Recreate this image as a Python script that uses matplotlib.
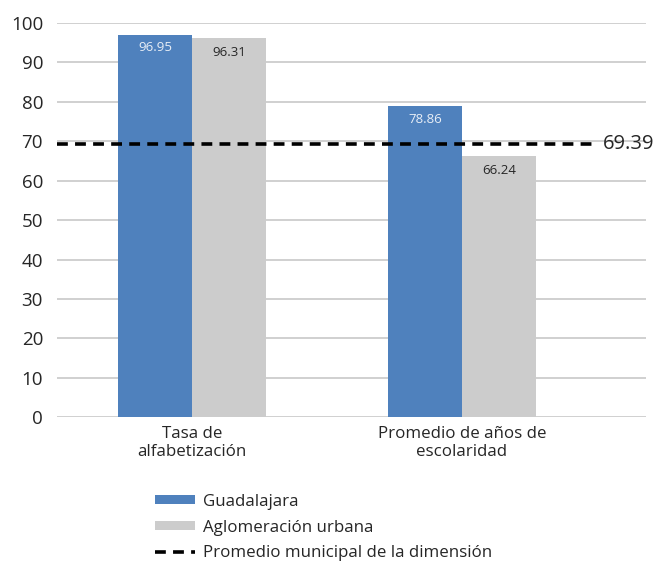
import matplotlib
matplotlib.use("Agg")
import matplotlib.pyplot as plt
import numpy as np

categories = ["Tasa de\nalfabetización", "Promedio de años de\nescolaridad"]
guadalajara = [96.95, 78.86]
aglomeracion = [96.31, 66.24]
promedio_municipal = 69.39
series_names = ["Guadalajara", "Aglomeración urbana", "Promedio municipal de la dimensión"]

plt.rcParams["font.family"] = ["Open Sans", "DejaVu Sans"]

fig = plt.figure(figsize=(6.7, 5.63), dpi=100)
ax = fig.add_axes([0.085, 0.259, 0.879, 0.7])

x = np.arange(len(categories))
w = 0.274
b1 = ax.bar(x - w / 2, guadalajara, w, color="#4F81BD", label=series_names[0], zorder=2)
b2 = ax.bar(x + w / 2, aglomeracion, w, color="#CCCCCC", label=series_names[1], zorder=2)

for rect, v in zip(b1, guadalajara):
    ax.text(rect.get_x() + rect.get_width() / 2, v - 1.6, f"{v:.2f}",
            ha="center", va="top", fontsize=9.5, color="#E8EEF6", zorder=4)
for rect, v in zip(b2, aglomeracion):
    ax.text(rect.get_x() + rect.get_width() / 2, v - 2.0, f"{v:.2f}",
            ha="center", va="top", fontsize=9.5, color="#262626", zorder=4)

# average line across both groups
line, = ax.plot([-0.5, 1.48], [promedio_municipal] * 2, color="black",
                lw=2.6, linestyle=(0, (3, 2)), label=series_names[2], zorder=3)
ax.text(1.52, promedio_municipal, f"{promedio_municipal:.2f}", ha="left", va="center",
        fontsize=14.5, color="#262626")

ax.set_xlim(-0.5, 1.681)
ax.set_ylim(0, 100)
ax.set_yticks(range(0, 101, 10))
ax.yaxis.grid(True, color="#C8C8C8", lw=1.2, zorder=0)
ax.set_axisbelow(True)
for s in ax.spines.values():
    s.set_visible(False)
ax.tick_params(axis="y", length=0, labelsize=13.5, labelcolor="#262626", pad=10)
ax.set_xticks(x)
ax.set_xticklabels(categories, fontsize=12.2, color="#262626", linespacing=1.2)
ax.tick_params(axis="x", length=0, pad=6)

fig.legend(handles=[b1, b2, line], labels=series_names, loc="upper left",
           bbox_to_anchor=(0.209, 0.150), frameon=False, fontsize=12.2,
           handlelength=2.35, handleheight=0.45, handletextpad=0.45, labelspacing=0.58,
           labelcolor="#262626")

fig.savefig("out.png", dpi=100)
